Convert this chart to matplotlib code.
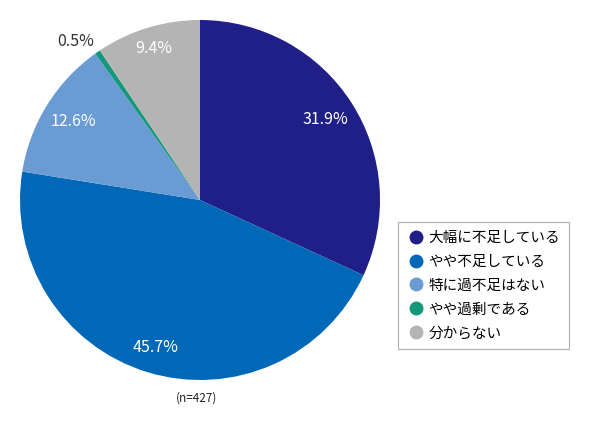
import numpy as np
import matplotlib
matplotlib.use('Agg')
import matplotlib.pyplot as plt
from matplotlib.lines import Line2D

plt.rcParams['font.family'] = ['Noto Sans CJK JP', 'DejaVu Sans']

categories = ['大幅に不足している', 'やや不足している', '特に過不足はない', 'やや過剰である', '分からない']
values = [31.9, 45.7, 12.6, 0.5, 9.4]
labels = ['31.9%', '45.7%', '12.6%', '0.5%', '9.4%']
colors = ['#1f1f87', '#0068b7', '#6a9bd2', '#14977a', '#b4b4b4']
n_text = '(n=427)'

fig = plt.figure(figsize=(5.9, 4.29), dpi=100)
ax = fig.add_axes([20/590, 49/429, 360/590, 360/429])

wedges, _ = ax.pie(values, colors=colors, startangle=90, counterclock=False,
                   wedgeprops=dict(linewidth=0))
ax.set_aspect('equal')
ax.set_xlim(-1, 1)
ax.set_ylim(-1, 1)
ax.set_axis_off()

# label distance per slice (small slice goes outside)
dist = [0.83, 0.855, 0.83, 1.12, 0.88]
txt_col = ['white', 'white', 'white', '#333333', 'white']
for w, lab, d, c in zip(wedges, labels, dist, txt_col):
    ang = np.deg2rad((w.theta1 + w.theta2) / 2)
    if lab == '0.5%':
        ang = np.deg2rad(128)
    ax.text(d * np.cos(ang), d * np.sin(ang), lab, ha='center', va='center',
            fontsize=11.5, color=c, clip_on=False)

ax.text(-0.02, -1.1, n_text, ha='center', va='center', fontsize=8.5,
        color='#222222', clip_on=False)

handles = [Line2D([], [], marker='o', linestyle='', markersize=9,
                  markerfacecolor=c, markeredgecolor=c) for c in colors]
leg = fig.legend(handles, categories, loc='upper left',
                 bbox_to_anchor=(398/590, 1 - 222/429), fontsize=10.5,
                 frameon=True, fancybox=False, edgecolor='#999999',
                 handletextpad=0.3, labelspacing=0.68, borderpad=0.6,
                 handlelength=1.2, borderaxespad=0)
leg.get_frame().set_linewidth(0.8)

fig.savefig('out.png', dpi=100)
